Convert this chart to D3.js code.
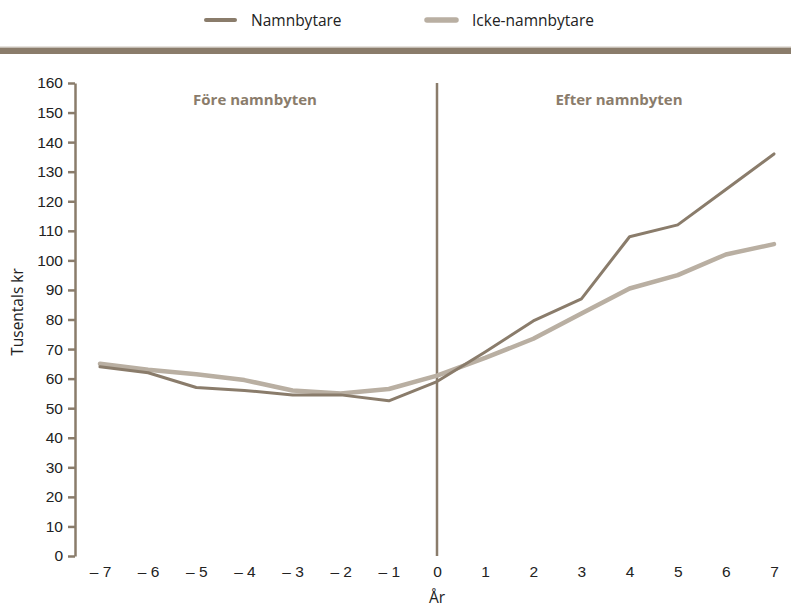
<!DOCTYPE html>
<html>
<head>
<meta charset="utf-8">
<script src="https://cdn.jsdelivr.net/npm/d3@7"></script>
<style>
  body { margin: 0; background: #fff; }
  svg { font-family: "Open Sans", "DejaVu Sans", sans-serif; }
</style>
</head>
<body>
<svg id="chart" width="791" height="607"></svg>
<script>
// values (tusentals kr)
const years = [-7, -6, -5, -4, -3, -2, -1, 0, 1, 2, 3, 4, 5, 6, 7];
const yearLabels = ["– 7", "– 6", "– 5", "– 4", "– 3", "– 2", "– 1", "0", "1", "2", "3", "4", "5", "6", "7"];
const namnbytare = [64, 62, 57, 56, 54.5, 54.5, 52.5, 59, 69, 79.5, 87, 108, 112, 124, 136];
const ickeNamnbytare = [65, 63, 61.5, 59.5, 56, 55, 56.5, 61, 67, 73.5, 82, 90.5, 95, 102, 105.5];
const yTicks = [0, 10, 20, 30, 40, 50, 60, 70, 80, 90, 100, 110, 120, 130, 140, 150, 160];

const dark = "#8a7c6b";
const light = "#b9afa2";
const textCol = "#222";
const fs = 15.5;

const svg = d3.select("#chart");

// top band + legend
svg.append("rect").attr("x", 0).attr("y", 46).attr("width", 791).attr("height", 1).attr("fill", "#e6e2dd");
svg.append("rect").attr("x", 0).attr("y", 47.5).attr("width", 791).attr("height", 6.5).attr("fill", dark);

const legend = [
  {name: "Namnbytare", color: dark, w: 3, x: 205},
  {name: "Icke-namnbytare", color: light, w: 4.5, x: 426}
];
const lg = svg.append("g").selectAll("g").data(legend).enter().append("g")
  .attr("transform", d => "translate(" + d.x + ",20)");
lg.append("line").attr("x1", 1).attr("x2", 30).attr("y1", 0).attr("y2", 0)
  .attr("stroke", d => d.color).attr("stroke-width", d => d.w + 1).attr("stroke-linecap", "round");
lg.append("text").attr("x", 46).attr("y", 5.5).attr("font-size", fs).attr("fill", textCol).text(d => d.name);

// scales
const x = d3.scaleLinear().domain([-7, 7]).range([100, 774]);
const y = d3.scaleLinear().domain([0, 160]).range([556, 83]);

// Y axis
const yAxis = svg.append("g").attr("transform", "translate(75,0)")
  .call(d3.axisLeft(y).tickValues(yTicks).tickSize(7).tickPadding(5).tickSizeOuter(0));
yAxis.select(".domain").attr("stroke", dark).attr("stroke-width", 2.5);
yAxis.selectAll(".tick line").attr("stroke", dark).attr("stroke-width", 2.5);
yAxis.selectAll(".tick text").attr("font-size", fs).attr("fill", textCol).attr("font-family", null);

// X tick labels (no axis line in the reference)
const xAxis = svg.append("g").attr("transform", "translate(0,560)")
  .call(d3.axisBottom(x).tickValues(years).tickSize(0).tickPadding(6)
    .tickFormat((d, i) => yearLabels[i]));
xAxis.select(".domain").remove();
xAxis.selectAll(".tick text").attr("font-size", fs).attr("fill", textCol).attr("font-family", null);

// divider at year 0
svg.append("line").attr("x1", x(0)).attr("x2", x(0)).attr("y1", y(160)).attr("y2", y(0))
  .attr("stroke", dark).attr("stroke-width", 2.5);

// section labels
svg.append("text").attr("x", x(-3.78)).attr("y", 105).attr("text-anchor", "middle")
  .attr("font-size", 15).attr("font-weight", "bold").attr("fill", dark).text("Före namnbyten");
svg.append("text").attr("x", x(3.78)).attr("y", 105).attr("text-anchor", "middle")
  .attr("font-size", 15).attr("font-weight", "bold").attr("fill", dark).text("Efter namnbyten");

// axis titles
svg.append("text").attr("transform", "translate(23,312) rotate(-90)")
  .attr("text-anchor", "middle").attr("font-size", fs).attr("fill", textCol).text("Tusentals kr");
svg.append("text").attr("x", x(0)).attr("y", 603).attr("text-anchor", "middle")
  .attr("font-size", fs).attr("fill", textCol).text("År");

// lines
const line = d3.line().x((d, i) => x(years[i])).y(d => y(d));
svg.append("path").datum(ickeNamnbytare).attr("d", line).attr("fill", "none")
  .attr("stroke", light).attr("stroke-width", 4.5).attr("stroke-linejoin", "round").attr("stroke-linecap", "round");
svg.append("path").datum(namnbytare).attr("d", line).attr("fill", "none")
  .attr("stroke", dark).attr("stroke-width", 3).attr("stroke-linejoin", "round").attr("stroke-linecap", "round");
</script>
</body>
</html>
